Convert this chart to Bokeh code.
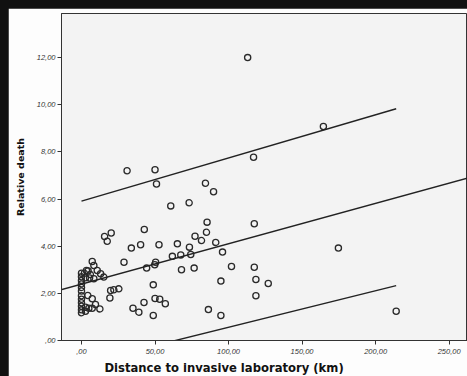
from bokeh.plotting import figure
from bokeh.models import FixedTicker, Title, ColumnDataSource
from bokeh.layouts import column
from bokeh.embed import file_html
from bokeh.resources import INLINE

# Distance (km) and relative death per hospital
distance = [
    113, 164.5, 117, 31, 50, 51, 84.3, 89.8, 60.7, 73.2,
    117.5, 42.7, 85.4, 85, 77.2, 81.6, 91.3, 40.2, 33.9, 52.7,
    65.2, 73.4, 174.7, 95.9, 61.8, 67.5, 74.3, 50.4, 49.8, 44.3,
    68, 76.6, 102, 117.5, 118.6, 127, 118.6, 48.8, 94.8, 42.5,
    50, 53.2, 57, 35, 39, 48.8, 86.3, 94.8, 214, 28.9,
    15.7, 20.2, 17.5, 19.8, 22, 25.4, 19.3,
    0, 0, 0, 0, 0, 0, 0, 0, 0, 0, 0, 0,
    2, 3.4, 2.7, 6, 8.4, 7.3, 8.4, 10.7, 13, 15.2,
    4.3, 7.3, 9.5, 2.7, 5, 7.3, 12.5, 2.7, 5.5, 4.5,
]
relative_death = [
    12.0, 9.08, 7.77, 7.2, 7.24, 6.64, 6.67, 6.31, 5.71, 5.84,
    4.95, 4.71, 5.02, 4.59, 4.42, 4.24, 4.16, 4.06, 3.92, 4.06,
    4.1, 3.96, 3.92, 3.75, 3.57, 3.63, 3.65, 3.32, 3.21, 3.07,
    3.0, 3.07, 3.14, 3.11, 2.59, 2.42, 1.9, 2.36, 2.52, 1.61,
    1.78, 1.75, 1.56, 1.37, 1.2, 1.06, 1.31, 1.06, 1.24, 3.32,
    4.41, 4.56, 4.21, 2.12, 2.15, 2.19, 1.8,
    2.85, 2.7, 2.55, 2.4, 2.25, 2.1, 1.9, 1.75, 1.6, 1.45, 1.3, 1.18,
    2.85, 2.97, 2.66, 2.8, 2.62, 3.35, 3.18, 2.97, 2.83, 2.69,
    1.91, 1.77, 1.53, 1.41, 1.37, 1.37, 1.34, 1.24, 2.65, 2.95,
]

# Fitted line and individual prediction limits
fit_x = [-14, 263]
fit_y = [2.15, 6.90]
upper_x = [0, 214]
upper_y = [5.91, 9.83]
lower_x = [0, 214]
lower_y = [-0.99, 2.33]

x_ticks = [0, 50, 100, 150, 200, 250]
x_tick_labels = [",00", "50,00", "100,00", "150,00", "200,00", "250,00"]
y_ticks = [0, 2, 4, 6, 8, 10, 12]
y_tick_labels = [",00", "2,00", "4,00", "6,00", "8,00", "10,00", "12,00"]

p = figure(
    width=459, height=368,
    x_range=(-13.6, 262.5), y_range=(0, 13.87),
    output_backend="svg", toolbar_location=None,
    min_border_left=53, min_border_top=5, min_border_right=0, min_border_bottom=0,
)
p.margin = (8, 0, 0, 8)
p.background_fill_color = "#f3f3f3"
p.border_fill_color = "#fdfdfd"
p.outline_line_color = "#333333"
p.outline_line_width = 1
p.xgrid.visible = False
p.ygrid.visible = False

src = ColumnDataSource(dict(x=distance, y=relative_death))
p.scatter("x", "y", source=src, size=6.2, marker="circle",
          fill_color=None, line_color="#2a2a2a", line_width=1.3)

for lx, ly in ((fit_x, fit_y), (upper_x, upper_y), (lower_x, lower_y)):
    p.line(lx, ly, line_color="#222222", line_width=1.4)

for ax in (p.xaxis[0], p.yaxis[0]):
    ax.axis_line_color = "#333333"
    ax.major_tick_line_color = "#333333"
    ax.major_tick_out = 4
    ax.major_tick_in = 0
    ax.minor_tick_line_color = None
    ax.major_label_text_font = "Liberation Sans"
    ax.major_label_text_font_size = "7.5px"
    ax.major_label_text_font_style = "italic"
    ax.major_label_text_color = "#333333"

p.xaxis.ticker = FixedTicker(ticks=x_ticks)
p.xaxis.major_label_overrides = dict(zip(x_ticks, x_tick_labels))
p.xaxis.major_label_standoff = 4
p.yaxis.ticker = FixedTicker(ticks=y_ticks)
p.yaxis.major_label_overrides = dict(zip(y_ticks, y_tick_labels))
p.yaxis.major_label_standoff = 2

p.yaxis.axis_label = "Relative death"
p.yaxis.axis_label_text_font = "DejaVu Sans"
p.yaxis.axis_label_text_font_size = "9.5px"
p.yaxis.axis_label_text_font_style = "bold"
p.yaxis.axis_label_text_color = "#111111"
p.yaxis.axis_label_standoff = 8

# x-axis title in the panel below the axis, left-shifted from the frame centre
title_x = Title(
    text="Distance to invasive laboratory (km)", align="left", offset=43,
    text_font="DejaVu Sans", text_font_size="11.6px", text_font_style="bold",
    text_color="#111111", standoff=4,
)
p.add_layout(title_x, "below")

layout = column(p, styles={"background-color": "#111111"})

open("out.html", "w").write(file_html(layout, INLINE))
